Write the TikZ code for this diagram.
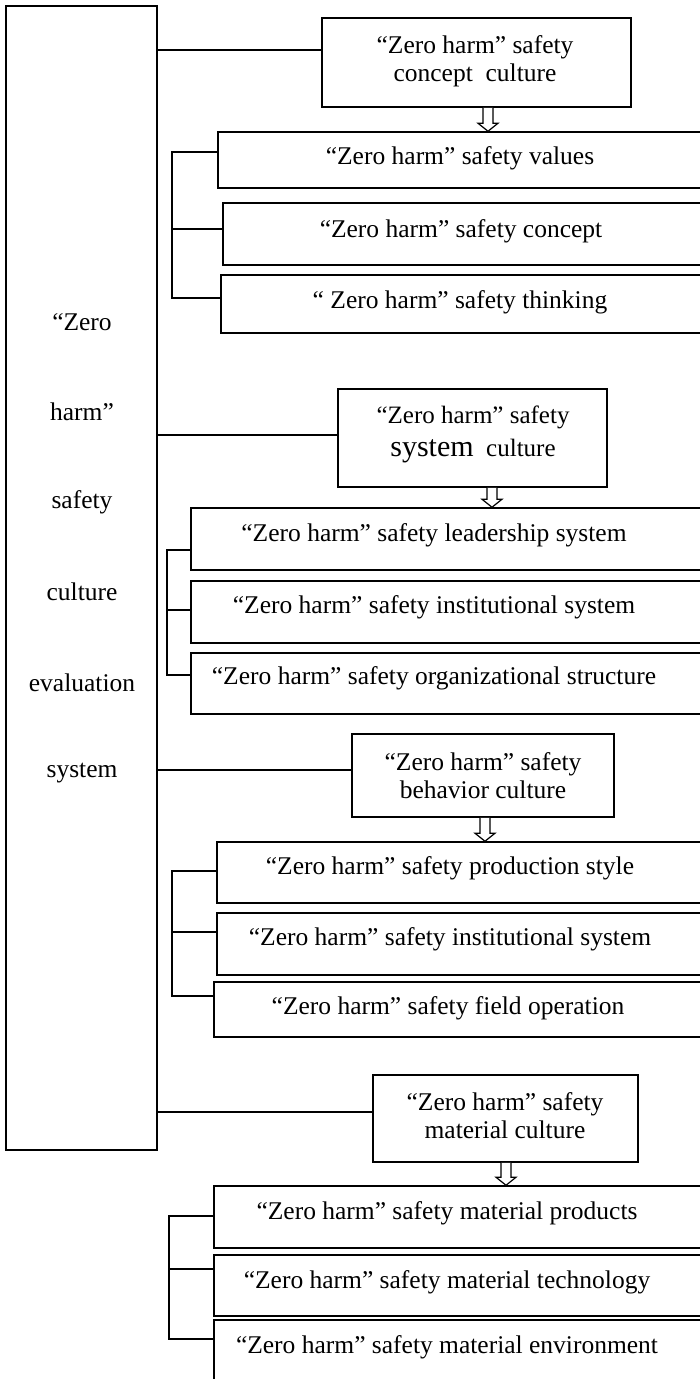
\documentclass[tikz,border=0pt]{standalone}
\usepackage{fontspec}
\setmainfont{Liberation Serif}
\usetikzlibrary{fit,calc}
\newcommand\hollowarr[3]{%
  \draw[harr] let \p1=(#2), \p2=(#3) in
  (#1pt-5pt,\y1) -- (#1pt-5pt,\y2+8pt) -- (#1pt-10pt,\y2+8pt) -- (#1pt,\y2)
  -- (#1pt+10pt,\y2+8pt) -- (#1pt+5pt,\y2+8pt) -- (#1pt+5pt,\y1);}
\begin{document}
\begin{tikzpicture}[x=1pt,y=-1pt,
  bx/.style={draw, line width=1.5pt, inner sep=0pt},
  tx/.style={inner sep=0pt, align=center, font=\fontsize{25.5}{28}\selectfont},
  ln/.style={line width=1.5pt},
  harr/.style={line width=1.2pt, fill=white}]
\useasboundingbox (0,0) rectangle (700,1379);

% main box
\node[bx, fit={(6,6) (157,1150)}] (main) {};
\node[tx] (m1) at (82,322) {“Zero};
\node[tx] (m2) at (82,412) {harm”};
\node[tx] (m3) at (82,502) {safety};
\node[tx] (m4) at (82,592) {culture};
\node[tx] (m5) at (82,683) {evaluation};
\node[tx] (m6) at (82,773) {system};

% ---------- concept culture
\node[bx, fit={(322,18) (631,107)}] (c1) {};
\node[tx] (c1t) at (475,61) {“Zero harm” safety\\concept~~culture};
\node[bx, fit={(218,132) (706,188)}] (c1a) {};
\node[tx] (c1at) at (460,158) {“Zero harm” safety values};
\node[bx, fit={(223,203) (706,265)}] (c1b) {};
\node[tx] (c1bt) at (461,231) {“Zero harm” safety concept};
\node[bx, fit={(221,275) (706,333)}] (c1c) {};
\node[tx] (c1ct) at (460,302) {“ Zero harm” safety thinking};

\draw[ln] (main.east |- 0,50) -- (c1.west |- 0,50);
\hollowarr{488}{c1.south}{c1a.north}
\draw[ln] (c1a.west |- 0,152) -- (172,152) -- (172,298) -- (c1c.west |- 0,298);
\draw[ln] (172,229) -- (c1b.west |- 0,229);

% ---------- system culture
\node[bx, fit={(338,389) (607,487)}] (c2) {};
\node[tx, font=\fontsize{25}{33}\selectfont] (c2t) at (473,434)
  {“Zero harm” safety\\{\fontsize{30}{33}\selectfont system}~~culture};
\node[bx, fit={(191,508) (706,570)}] (c2a) {};
\node[tx] (c2at) at (434,535) {“Zero harm” safety leadership system};
\node[bx, fit={(191,581) (706,643)}] (c2b) {};
\node[tx] (c2bt) at (434,607) {“Zero harm” safety institutional system};
\node[bx, fit={(191,653) (706,714)}] (c2c) {};
\node[tx] (c2ct) at (434,678) {“Zero harm” safety organizational structure};

\draw[ln] (main.east |- 0,435) -- (c2.west |- 0,435);
\hollowarr{492}{c2.south}{c2a.north}
\draw[ln] (c2a.west |- 0,550) -- (167,550) -- (167,675) -- (c2c.west |- 0,675);
\draw[ln] (167,610) -- (c2b.west |- 0,610);

% ---------- behavior culture
\node[bx, fit={(352,734) (614,817)}] (c3) {};
\node[tx] (c3t) at (483,776) {“Zero harm” safety\\behavior culture};
\node[bx, fit={(217,842) (706,903)}] (c3a) {};
\node[tx] (c3at) at (450,868) {“Zero harm” safety production style};
\node[bx, fit={(217,913) (706,975)}] (c3b) {};
\node[tx] (c3bt) at (450,939) {“Zero harm” safety institutional system};
\node[bx, fit={(214,982) (706,1037)}] (c3c) {};
\node[tx] (c3ct) at (448,1008) {“Zero harm” safety field operation};

\draw[ln] (main.east |- 0,770) -- (c3.west |- 0,770);
\hollowarr{485}{c3.south}{c3a.north}
\draw[ln] (c3a.west |- 0,871) -- (172,871) -- (172,996) -- (c3c.west |- 0,996);
\draw[ln] (172,932) -- (c3b.west |- 0,932);

% ---------- material culture
\node[bx, fit={(373,1075) (638,1162)}] (c4) {};
\node[tx] (c4t) at (505,1116) {“Zero harm” safety\\material culture};
\node[bx, fit={(214,1186) (706,1248)}] (c4a) {};
\node[tx] (c4at) at (447,1213) {“Zero harm” safety material products};
\node[bx, fit={(214,1255) (706,1316)}] (c4b) {};
\node[tx] (c4bt) at (447,1282) {“Zero harm” safety material technology};
\node[bx, fit={(214,1320) (706,1395)}] (c4c) {};
\node[tx] (c4ct) at (447,1347) {“Zero harm” safety material environment};

\draw[ln] (main.east |- 0,1112) -- (c4.west |- 0,1112);
\hollowarr{506}{c4.south}{c4a.north}
\draw[ln] (c4a.west |- 0,1216) -- (169,1216) -- (169,1339) -- (c4c.west |- 0,1339);
\draw[ln] (169,1269) -- (c4b.west |- 0,1269);
\end{tikzpicture}
\end{document}
